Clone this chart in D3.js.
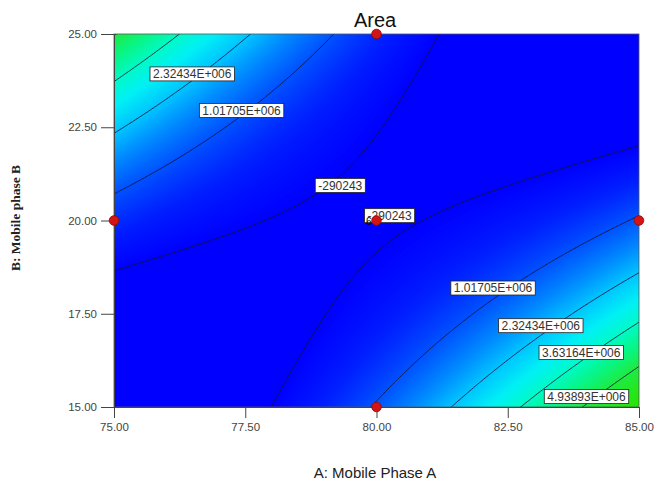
<!DOCTYPE html>
<html>
<head>
<meta charset="utf-8">
<script src="https://cdn.jsdelivr.net/npm/d3@7"></script>
<style>
  body { margin: 0; background: #fff; }
  svg { display: block; }
</style>
</head>
<body>
<svg id="chart" width="658" height="489"></svg>
<script>
// Factor ranges (actual units)
const rangeA = [75, 85];   // A: Mobile Phase A
const rangeB = [15, 25];   // B: Mobile phase B
const xTickValues = [75, 77.5, 80, 82.5, 85];
const yTickValues = [15, 17.5, 20, 22.5, 25];

// Quadratic response-surface model for Area, coded factors a, b in [-1, 1]
const modelTerms = ["Intercept", "A", "B", "AB", "A^2", "B^2"];
const modelCoefs = [-380000, 300000, -330000, -3650000, 1200000, 1150000];

// Contour levels and their printed labels
const contourLevels = [-290243, 1017050, 2324340, 3631640, 4938930];
const contourText = ["-290243", "1.01705E+006", "2.32434E+006", "3.63164E+006", "4.93893E+006"];

// Where each contour label sits (level index, A, B)
const labelLevelIndex = [2, 1, 0, 0, 1, 2, 3, 4];
const labelA = [76.49, 77.43, 79.31, 80.25, 82.22, 83.13, 83.90, 84.00];
const labelB = [23.93, 22.95, 20.94, 20.13, 18.19, 17.18, 16.46, 15.28];

// Design points
const designA = [75, 80, 80, 85, 80];
const designB = [20, 25, 20, 20, 15];
const centerReplicates = "6";

// Colour ramp stops (response value -> colour)
const colourValues = [-300000, 300000, 1000000, 1700000, 2300000, 3000000, 3600000, 4300000, 4900000, 6000000];
const colourStops = ["#0000ff", "#001eff", "#0050ff", "#008cff", "#00c3ff", "#00f0f5", "#00fac8", "#0af582", "#1eeb46", "#28e60a"];

function model(A, B) {
  const a = (A - 80) / 5, b = (B - 20) / 5;
  const c = modelCoefs;
  return c[0] + c[1] * a + c[2] * b + c[3] * a * b + c[4] * a * a + c[5] * b * b;
}

const svg = d3.select("#chart");
const plot = { left: 114, right: 639, top: 34, bottom: 407 };

const x = d3.scaleLinear().domain(rangeA).range([plot.left, plot.right]);
const y = d3.scaleLinear().domain(rangeB).range([plot.bottom, plot.top]);
const colour = d3.scaleLinear().domain(colourValues).range(colourStops).clamp(true);

svg.append("defs").append("clipPath").attr("id", "plotClip")
  .append("rect")
  .attr("x", x(rangeA[0])).attr("y", y(rangeB[1]))
  .attr("width", x(rangeA[1]) - x(rangeA[0]))
  .attr("height", y(rangeB[0]) - y(rangeB[1]));

// Sample the surface on a grid slightly larger than the plot so edges stay clean
const pad = 0.4;
const gA = [rangeA[0] - pad, rangeA[1] + pad];
const gB = [rangeB[0] - pad, rangeB[1] + pad];
const n = 230, m = 230;
const values = new Float64Array(n * m);
for (let j = 0; j < m; j++) {
  const B = gB[1] - (j + 0.5) / m * (gB[1] - gB[0]);
  for (let i = 0; i < n; i++) {
    const A = gA[0] + (i + 0.5) / n * (gA[1] - gA[0]);
    values[j * n + i] = model(A, B);
  }
}
const gridToPx = d3.geoTransform({
  point(cx, cy) {
    const A = gA[0] + cx / n * (gA[1] - gA[0]);
    const B = gB[1] - cy / m * (gB[1] - gB[0]);
    this.stream.point(x(A), y(B));
  }
});
const path = d3.geoPath(gridToPx);

const body = svg.append("g").attr("clip-path", "url(#plotClip)");

// Filled colour bands
const extent = d3.extent(values);
const step = 40000;
const fillLevels = d3.range(Math.floor(extent[0] / step) * step, extent[1], step);
body.append("rect")
  .attr("x", plot.left).attr("y", plot.top)
  .attr("width", plot.right - plot.left).attr("height", plot.bottom - plot.top)
  .attr("fill", colour(extent[0]));
body.append("g")
  .selectAll("path")
  .data(d3.contours().size([n, m]).thresholds(fillLevels)(values))
  .join("path")
  .attr("d", path)
  .attr("fill", d => colour(d.value + step / 2))
  .attr("stroke", d => colour(d.value + step / 2))
  .attr("stroke-width", 0.4);

// Contour lines
body.append("g")
  .selectAll("path")
  .data(d3.contours().size([n, m]).thresholds(contourLevels)(values))
  .join("path")
  .attr("d", path)
  .attr("fill", "none")
  .attr("stroke", "#14143c")
  .attr("stroke-opacity", 0.85)
  .attr("stroke-width", 1);

// Contour labels
const labels = svg.append("g")
  .style("font-family", "Arial, 'Liberation Sans', sans-serif")
  .style("font-size", "12px");
labelLevelIndex.forEach((li, k) => {
  const g = labels.append("g")
    .attr("transform", `translate(${x(labelA[k])},${y(labelB[k])})`);
  const t = g.append("text")
    .attr("text-anchor", "middle")
    .attr("dy", "0.36em")
    .attr("fill", "#333")
    .text(contourText[li]);
  const w = t.node().getComputedTextLength() + 6;
  g.insert("rect", "text")
    .attr("x", -w / 2).attr("y", -7)
    .attr("width", w).attr("height", 14)
    .attr("fill", "#fff")
    .attr("stroke", "#222")
    .attr("stroke-width", 0.8);
});

// Plot frame
svg.append("rect")
  .attr("x", plot.left).attr("y", plot.top)
  .attr("width", plot.right - plot.left).attr("height", plot.bottom - plot.top)
  .attr("fill", "none").attr("stroke", "#555").attr("stroke-width", 0.8);

// Axes
const fmt = d3.format(".2f");
const xAxis = svg.append("g")
  .attr("transform", `translate(0,${plot.bottom})`)
  .call(d3.axisBottom(x).tickValues(xTickValues).tickFormat(fmt).tickSize(11).tickSizeOuter(0).tickPadding(5));
const yAxis = svg.append("g")
  .attr("transform", `translate(${plot.left},0)`)
  .call(d3.axisLeft(y).tickValues(yTickValues).tickFormat(fmt).tickSize(13).tickSizeOuter(0).tickPadding(4));
[xAxis, yAxis].forEach(ax => {
  ax.select(".domain").attr("stroke", "#444");
  ax.selectAll(".tick line").attr("stroke", "#444");
  ax.selectAll(".tick text")
    .attr("fill", "#444")
    .style("font-family", "Arial, 'Liberation Sans', sans-serif")
    .style("font-size", "11.5px");
});

// Design points
svg.append("g")
  .selectAll("circle")
  .data(designA.map((a, i) => [a, designB[i]]))
  .join("circle")
  .attr("cx", d => x(d[0]))
  .attr("cy", d => y(d[1]))
  .attr("r", 4.8)
  .attr("fill", "#d41414")
  .attr("stroke", "#8a0a0a")
  .attr("stroke-width", 0.8);

svg.append("text")
  .attr("x", x(80) - 5)
  .attr("y", y(20) + 4)
  .attr("text-anchor", "end")
  .attr("fill", "#000")
  .style("font-family", "Arial, 'Liberation Sans', sans-serif")
  .style("font-size", "10px")
  .text(centerReplicates);

// Titles
svg.append("text")
  .attr("x", 375).attr("y", 27)
  .attr("text-anchor", "middle")
  .attr("fill", "#111")
  .style("font-family", "Arial, 'Liberation Sans', sans-serif")
  .style("font-size", "20px")
  .text("Area");

svg.append("text")
  .attr("x", 375).attr("y", 478)
  .attr("text-anchor", "middle")
  .attr("fill", "#222")
  .style("font-family", "Arial, 'Liberation Sans', sans-serif")
  .style("font-size", "15px")
  .text("A: Mobile Phase A");

svg.append("text")
  .attr("transform", "translate(20,218) rotate(-90)")
  .attr("text-anchor", "middle")
  .attr("fill", "#222")
  .style("font-family", "'Liberation Serif', 'Times New Roman', serif")
  .style("font-weight", "bold")
  .style("font-size", "13.5px")
  .text("B: Mobile phase B");
</script>
</body>
</html>
